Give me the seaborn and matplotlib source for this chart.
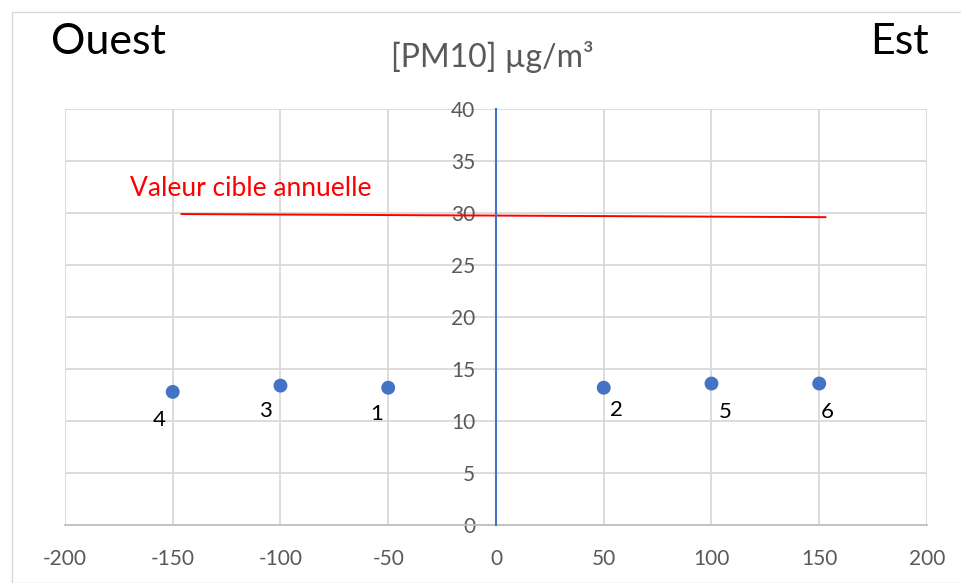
import matplotlib.pyplot as plt
import seaborn as sns
import pandas as pd
from matplotlib.patches import Rectangle

# positions des stations (m) et concentrations PM10
distance = [-150, -100, -50, 50, 100, 150]
pm10 = [12.8, 13.4, 13.2, 13.2, 13.6, 13.6]
station = ['4', '3', '1', '2', '5', '6']

# valeur cible annuelle (ligne rouge)
cible_x = [-146, 153]
cible_y = [29.9, 29.6]

df = pd.DataFrame({'distance': distance, 'pm10': pm10, 'station': station})
df_cible = pd.DataFrame({'x': cible_x, 'y': cible_y})

sns.set_style('white')
plt.rcParams['font.family'] = ['Lato', 'DejaVu Sans']
plt.rcParams['axes.unicode_minus'] = False

fig = plt.figure(figsize=(9.61, 5.83), dpi=100)
ax = fig.add_axes([0.0676, 0.0995, 0.897, 0.7135])

# cadre gris clair autour du graphique
fig.patches.append(Rectangle((12 / 961, 0), 1, 1 - 12 / 583, transform=fig.transFigure,
                             fill=False, edgecolor='#d9d9d9', linewidth=1))

sns.lineplot(data=df_cible, x='x', y='y', ax=ax, color='#ff0000', linewidth=1.4)
sns.scatterplot(data=df, x='distance', y='pm10', ax=ax, color='#4472c4', s=100,
                edgecolor='none', zorder=5)

# étiquettes des points (décalage en pixels)
decal = {'4': (-14, -28), '3': (-15, -25), '1': (-12, -26), '2': (13, -22),
         '5': (14, -28), '6': (8, -28)}
for _, r in df.iterrows():
    dx, dy = decal[r['station']]
    ax.annotate(r['station'], (r['distance'], r['pm10']), xytext=(dx, dy),
                textcoords='offset pixels', ha='center', va='center',
                fontsize=16, color='black')

ax.text(-170, 32.4, 'Valeur cible annuelle', color='#ff0000', fontsize=19,
        va='center', ha='left')

ax.set_xlim(-200, 200)
ax.set_ylim(0, 40)
ax.set_xticks(range(-200, 201, 50))
ax.set_yticks(range(0, 41, 5))
ax.grid(True, color='#d9d9d9', linewidth=1.3)
ax.set_axisbelow(True)

for s in ['top', 'right']:
    ax.spines[s].set_visible(False)
ax.spines['left'].set_position(('data', 0))
ax.spines['left'].set_color('#4472c4')
ax.spines['left'].set_linewidth(1.5)
ax.spines['left'].set_zorder(3)
ax.spines['bottom'].set_color('#bfbfbf')
ax.spines['bottom'].set_linewidth(1.3)

ax.tick_params(axis='y', length=0, pad=15, labelsize=15, labelcolor='#595959')
ax.tick_params(axis='x', length=0, pad=17, labelsize=15, labelcolor='#595959')
ax.set_xlabel('')
ax.set_ylabel('')

fig.text(0.512, 0.903, '[PM10] µg/m³', fontsize=23, color='#595959', ha='center', va='center')
fig.text(0.053, 0.928, 'Ouest', fontsize=31, color='black', ha='left', va='center')
fig.text(0.966, 0.928, 'Est', fontsize=31, color='black', ha='right', va='center')

fig.savefig('out.png', dpi=100)
